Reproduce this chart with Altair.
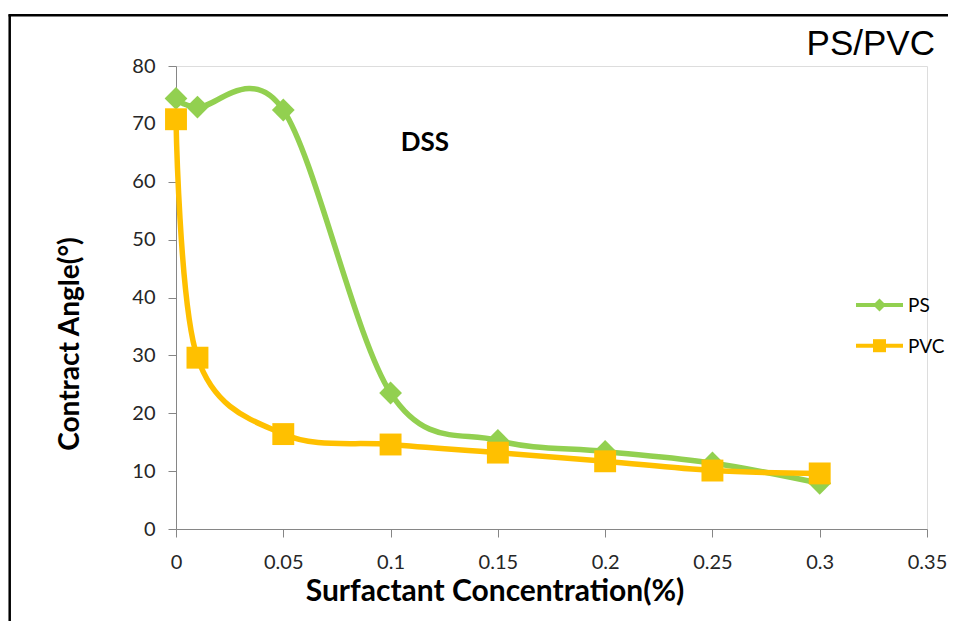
import altair as alt
import pandas as pd

# ---- data ----
conc = [0, 0.01, 0.05, 0.1, 0.15, 0.2, 0.25, 0.3]
ps_angle = [74.4, 72.9, 72.4, 23.5, 15.3, 13.4, 11.4, 7.9]
pvc_angle = [70.8, 29.6, 16.4, 14.6, 13.2, 11.7, 10.1, 9.6]
series = ["PS", "PVC"]
colors = ["#92D050", "#FFC000"]
shapes = ["diamond", "square"]
x_ticks = [0, 0.05, 0.1, 0.15, 0.2, 0.25, 0.3, 0.35]
y_ticks = [0, 10, 20, 30, 40, 50, 60, 70, 80]

rows = []
for c, a in zip(conc, ps_angle):
    rows.append({"conc": c, "angle": a, "series": "PS"})
for c, a in zip(conc, pvc_angle):
    rows.append({"conc": c, "angle": a, "series": "PVC"})
df = pd.DataFrame(rows)

W, H = 751, 463
AXIS_GREY = "#868686"

x_enc = alt.X(
    "conc:Q",
    scale=alt.Scale(domain=[0, 0.35], nice=False, zero=False),
    axis=alt.Axis(
        values=x_ticks, format=".2~f", title="Surfactant Concentration(%)",
        grid=False, domainColor=AXIS_GREY, tickColor=AXIS_GREY, tickSize=8,
        labelFont="Lato", labelFontSize=20, labelColor="#262626", labelPadding=15,
        titleFont="Lato", titleFontSize=30, titleFontWeight="bold", titleColor="#000000",
        titleX=318.5, titleY=71.5, titleAlign="center", titleBaseline="alphabetic",
        labelFlush=False, labelOverlap=False,
    ),
)
y_enc = alt.Y(
    "angle:Q",
    scale=alt.Scale(domain=[0, 80], nice=False),
    axis=alt.Axis(
        values=y_ticks, title="Contract Angle(°)",
        grid=False, domainColor=AXIS_GREY, tickColor=AXIS_GREY, tickSize=8,
        labelFont="Lato", labelFontSize=20, labelColor="#262626", labelPadding=13,
        titleFont="Lato", titleFontSize=28, titleFontWeight="bold", titleColor="#000000",
        titleX=-97.5, titleY=277.5, titleAngle=270, titleAlign="center", titleBaseline="alphabetic",
        labelFlush=False, labelOverlap=False,
    ),
)

color_scale = alt.Scale(domain=series, range=colors)
base = alt.Chart(df).encode(x=x_enc, y=y_enc)


def line_layer(name):
    return base.transform_filter(alt.datum.series == name).mark_line(
        interpolate="cardinal", strokeWidth=5.5, clip=False
    ).encode(color=alt.Color("series:N", scale=color_scale, legend=None))


def point_layer(name, shape, size):
    return base.transform_filter(alt.datum.series == name).mark_point(
        filled=True, opacity=1, size=size, shape=shape, clip=False
    ).encode(color=alt.Color("series:N", scale=color_scale, legend=None))


# legend (line + marker + label), one row per series
legend_layers = []
leg_df = pd.DataFrame({"series": series})
for i, (name, col, shp) in enumerate(zip(series, colors, shapes)):
    yy = 239 + i * 40.7
    one = alt.Chart(leg_df).transform_filter(alt.datum.series == name)
    legend_layers.append(one.mark_rule(color=col, strokeWidth=4, clip=False).encode(
        x=alt.value(680), x2=alt.value(727), y=alt.value(yy)))
    legend_layers.append(one.mark_point(filled=True, opacity=1, color=col, shape=shp,
                                        size=170 if shp == "diamond" else 170, clip=False).encode(
        x=alt.value(703.5), y=alt.value(yy)))
    legend_layers.append(one.mark_text(font="Lato", fontSize=19, color="#000000", align="left",
                                       baseline="middle", clip=False).encode(
        x=alt.value(732), y=alt.value(yy + 1), text="series:N"))

# annotation
ann = alt.Chart(pd.DataFrame({"conc": [0.116], "angle": [66.7], "t": ["DSS"]})).mark_text(
    font="Lato", fontSize=26, fontWeight="bold", color="#000000", baseline="middle"
).encode(x=alt.X("conc:Q"), y=alt.Y("angle:Q"), text="t:N")

title_txt = alt.Chart(pd.DataFrame({"t": ["PS/PVC"]})).mark_text(
    font="Liberation Sans", fontSize=35, color="#000000", align="right", baseline="alphabetic"
).encode(x=alt.value(759), y=alt.value(-11), text="t:N")

frame_left = alt.Chart(pd.DataFrame({"a": [0]})).mark_rule(
    color="#000000", strokeWidth=2.5, clip=False
).encode(x=alt.value(-166.3), y=alt.value(-51.5), y2=alt.value(600))
frame_top = alt.Chart(pd.DataFrame({"a": [0]})).mark_rule(
    color="#000000", strokeWidth=2.5, clip=False
).encode(x=alt.value(-167.5), x2=alt.value(800), y=alt.value(-50.7))

chart = alt.layer(
    line_layer("PS"), point_layer("PS", "diamond", 520),
    line_layer("PVC"), point_layer("PVC", "square", 480),
    *legend_layers, ann, title_txt, frame_left, frame_top,
).properties(
    width=W, height=H,
    autosize=alt.AutoSizeParams(type="none"),
    padding={"left": 168, "top": 58, "right": 21, "bottom": 92},
).configure_view(stroke=None).configure(background="#ffffff")

chart.save("out.html", embed_options={"renderer": "svg", "actions": False})
